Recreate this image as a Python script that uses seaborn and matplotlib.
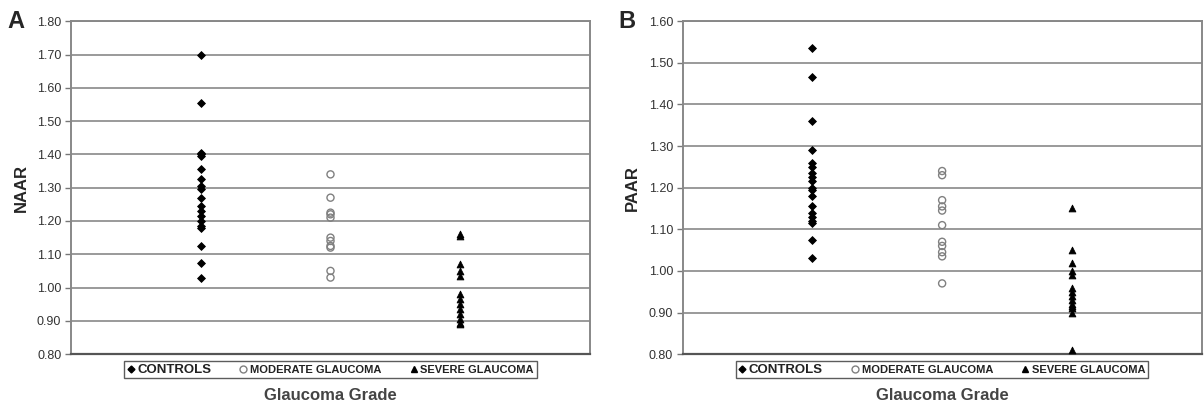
import numpy as np
import pandas as pd
import seaborn as sns
import matplotlib
matplotlib.use('Agg')
import matplotlib.pyplot as plt
from matplotlib.lines import Line2D

# values
groups = ['CONTROLS', 'MODERATE GLAUCOMA', 'SEVERE GLAUCOMA']

naar_controls = [1.70, 1.555, 1.405, 1.40, 1.395, 1.355, 1.325, 1.305, 1.295, 1.27,
                 1.245, 1.23, 1.215, 1.20, 1.185, 1.18, 1.125, 1.075, 1.03]
naar_moderate = [1.34, 1.27, 1.225, 1.22, 1.21, 1.15, 1.14, 1.125, 1.12, 1.05, 1.03]
naar_severe = [1.16, 1.155, 1.07, 1.05, 1.035, 0.98, 0.965, 0.95, 0.935, 0.92,
               0.905, 0.895, 0.89]

paar_controls = [1.535, 1.465, 1.36, 1.29, 1.26, 1.25, 1.235, 1.225, 1.215, 1.20,
                 1.195, 1.18, 1.155, 1.14, 1.13, 1.12, 1.115, 1.075, 1.03]
paar_moderate = [1.24, 1.23, 1.17, 1.155, 1.145, 1.11, 1.07, 1.06, 1.045, 1.035, 0.97]
paar_severe = [1.15, 1.05, 1.02, 1.00, 0.99, 0.96, 0.95, 0.94, 0.93, 0.92, 0.915,
               0.91, 0.90, 0.81]

naar_ticks = [0.80, 0.90, 1.00, 1.10, 1.20, 1.30, 1.40, 1.50, 1.60, 1.70, 1.80]
paar_ticks = [0.80, 0.90, 1.00, 1.10, 1.20, 1.30, 1.40, 1.50, 1.60]


def to_df(controls, moderate, severe):
    rows = []
    for i, (g, vals) in enumerate(zip(groups, [controls, moderate, severe])):
        for v in vals:
            rows.append({'group': g, 'pos': i + 1, 'value': v})
    return pd.DataFrame(rows)


sns.set_style('white')
plt.rcParams['font.family'] = ['Liberation Sans', 'DejaVu Sans']

fig = plt.figure(figsize=(12.04, 4.08), dpi=100)
axA = fig.add_axes([0.059, 0.132, 0.431, 0.816])
axB = fig.add_axes([0.567, 0.132, 0.431, 0.816])

styles = {
    'CONTROLS': dict(marker='D', s=16, color='black', edgecolor='black', linewidth=0.6),
    'MODERATE GLAUCOMA': dict(marker='o', s=26, facecolor='none', edgecolor='#808080', linewidth=1.0),
    'SEVERE GLAUCOMA': dict(marker='^', s=24, color='black', edgecolor='black', linewidth=0.6),
}

panels = [
    (axA, to_df(naar_controls, naar_moderate, naar_severe), naar_ticks, 'NAAR', 'A'),
    (axB, to_df(paar_controls, paar_moderate, paar_severe), paar_ticks, 'PAAR', 'B'),
]

for ax, df, ticks, ylab, letter in panels:
    for t in ticks[1:]:
        ax.axhline(t, color='#9a9a9a', lw=1.4, zorder=0)
    for g in groups:
        sub = df[df['group'] == g]
        sns.scatterplot(data=sub, x='pos', y='value', ax=ax, legend=False, zorder=3, **styles[g])
    ax.set_xlim(0, 4)
    ax.set_ylim(ticks[0], ticks[-1])
    ax.set_yticks(ticks)
    ax.set_yticklabels(['%.2f' % t for t in ticks], fontsize=9, color='#333333')
    ax.set_xticks([])
    ax.set_xlabel('')
    ax.set_ylabel(ylab, fontsize=12, fontweight='bold', labelpad=6)
    ax.tick_params(axis='y', length=4, width=1, color='#777777', direction='out', pad=3, left=True)
    for side in ['left', 'right', 'top']:
        ax.spines[side].set_color('#888888')
        ax.spines[side].set_linewidth(1.4)
    ax.spines['bottom'].set_color('#555555')
    ax.spines['bottom'].set_linewidth(1.6)

    ax.text(-0.09, 1.0, letter, transform=ax.transAxes, fontsize=17, fontweight='bold',
            ha='right', va='center')

    handles = [
        Line2D([], [], marker='D', ls='none', color='black', markersize=3.5),
        Line2D([], [], marker='o', ls='none', markerfacecolor='none',
               markeredgecolor='#808080', markersize=5),
        Line2D([], [], marker='^', ls='none', color='black', markersize=4.5),
    ]
    leg = ax.legend(handles, groups, loc='upper center', bbox_to_anchor=(0.5, -0.02),
                    ncol=3, frameon=True, fancybox=False, fontsize=8,
                    handlelength=0.6, handletextpad=0.3, columnspacing=2.6,
                    borderpad=0.25, borderaxespad=0)
    leg.get_frame().set_edgecolor('#333333')
    leg.get_frame().set_linewidth(1.0)
    for txt in leg.get_texts():
        txt.set_fontweight('bold')
        txt.set_color('#222222')
    leg.get_texts()[0].set_fontsize(9.5)

    ax.text(0.5, -0.125, 'Glaucoma Grade', transform=ax.transAxes, fontsize=12,
            fontweight='bold', ha='center', va='center', color='#444444')

fig.savefig('out.png', dpi=100)
